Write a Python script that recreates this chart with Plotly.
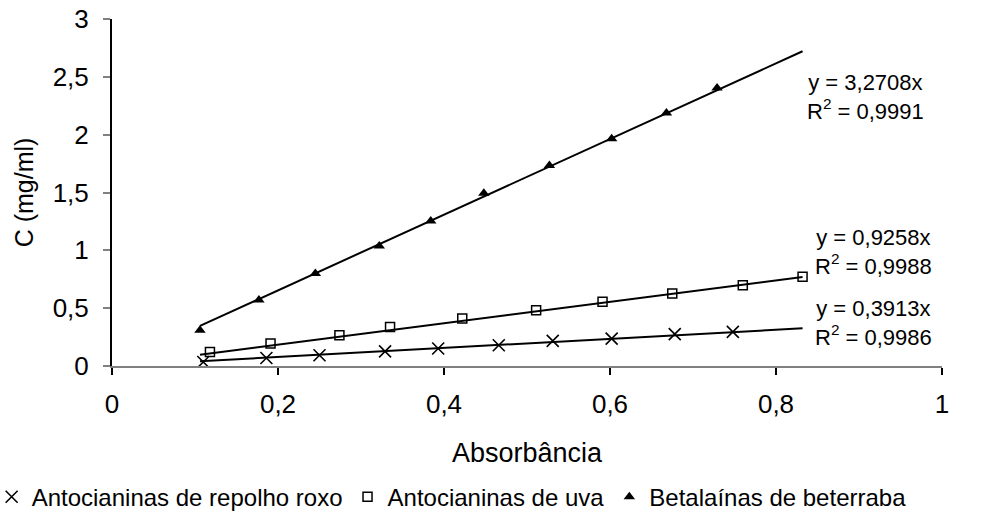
import plotly.graph_objects as go

# ---- data ----
absorb_repolho = [0.110, 0.186, 0.250, 0.329, 0.393, 0.466, 0.531, 0.602, 0.678, 0.748]
conc_repolho = [0.035, 0.069, 0.093, 0.127, 0.151, 0.179, 0.217, 0.237, 0.275, 0.295]

absorb_uva = [0.118, 0.191, 0.274, 0.335, 0.422, 0.511, 0.591, 0.675, 0.760, 0.832]
conc_uva = [0.121, 0.194, 0.266, 0.338, 0.411, 0.483, 0.555, 0.627, 0.699, 0.771]

absorb_beterraba = [0.106, 0.177, 0.245, 0.322, 0.384, 0.448, 0.527, 0.602, 0.668, 0.729]
conc_beterraba = [0.310, 0.570, 0.800, 1.037, 1.254, 1.494, 1.733, 1.964, 2.187, 2.404]

series_names = ["Antocianinas de repolho roxo", "Antocianinas de uva", "Betalaínas de beterraba"]
slopes = [0.3913, 0.9258, 3.2708]
r2_values = [0.9986, 0.9988, 0.9991]
x_tick_values = [0, 0.2, 0.4, 0.6, 0.8, 1]
y_tick_values = [0, 0.5, 1, 1.5, 2, 2.5, 3]

FONT = "Liberation Sans, Arial, sans-serif"

all_x = absorb_repolho + absorb_uva + absorb_beterraba
fit_x = [min(all_x), max(all_x)]

xs = [absorb_repolho, absorb_uva, absorb_beterraba]
ys = [conc_repolho, conc_uva, conc_beterraba]
markers = [
    dict(symbol="x-thin-open", size=12, color="black", line=dict(color="black", width=1.6)),
    dict(symbol="square-open", size=9, color="black", line=dict(color="black", width=1.5)),
    dict(symbol="triangle-up", size=10, color="black", line=dict(color="black", width=0)),
]

fig = go.Figure()
for name, x, y, m, s in zip(series_names, xs, ys, markers, slopes):
    fig.add_trace(go.Scatter(
        x=fit_x, y=[s * v for v in fit_x], mode="lines",
        line=dict(color="black", width=2), showlegend=False, hoverinfo="skip"))
    fig.add_trace(go.Scatter(x=x, y=y, mode="markers", name=name, marker=m))


def fmt(v):
    return f"{v:.4f}".replace(".", ",")


# equation labels (positions in data units)
label_pos = [(0.917, 0.370), (0.917, 0.985), (0.908, 2.328)]
for s, r2, (lx, ly) in zip(slopes, r2_values, label_pos):
    fig.add_annotation(
        x=lx, y=ly, xref="x", yref="y", showarrow=False,
        text=f"y = {fmt(s)}x<br>R<sup>2</sup> = {fmt(r2)}",
        font=dict(family=FONT, size=22, color="black"),
        xanchor="center", yanchor="middle", align="center")

fig.update_layout(
    width=984, height=514,
    margin=dict(l=112, r=42, t=19, b=148, autoexpand=False),
    paper_bgcolor="white", plot_bgcolor="white",
    separators=",.",
    font=dict(family=FONT, color="black", size=24),
    showlegend=True,
    legend=dict(
        orientation="h",
        x=-0.145, xanchor="left", y=-0.378, yanchor="middle",
        font=dict(family=FONT, size=24, color="black"),
        itemwidth=30, tracegroupgap=0,
    ),
)

fig.update_xaxes(
    range=[0, 1], tickvals=x_tick_values,
    showgrid=False, zeroline=False,
    showline=True, linecolor="#808080", linewidth=2,
    ticks="outside", ticklen=7, tickcolor="black", tickwidth=1.5,
    ticklabelstandoff=7,
    tickfont=dict(family=FONT, size=26, color="black"),
    title=dict(text="Absorbância", font=dict(family=FONT, size=27, color="black"), standoff=25),
)
fig.update_yaxes(
    range=[0, 3], tickvals=y_tick_values,
    showgrid=False, zeroline=False,
    showline=True, linecolor="black", linewidth=2,
    ticks="outside", ticklen=7, tickcolor="#808080", tickwidth=1.5,
    ticklabelstandoff=9,
    tickfont=dict(family=FONT, size=26, color="black"),
    title=dict(text="C (mg/ml)", font=dict(family=FONT, size=25, color="black"), standoff=12),
)

fig.write_html("out.html")
